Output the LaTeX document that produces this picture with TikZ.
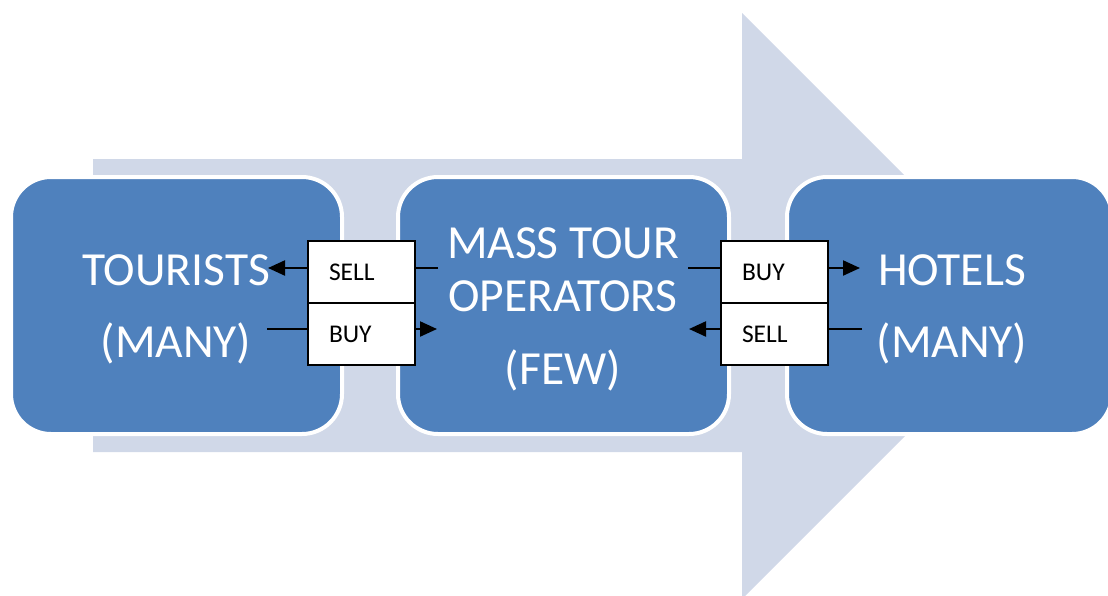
\documentclass[tikz,border=0pt]{standalone}
\usepackage{fontspec}
\setmainfont{Carlito}
\usetikzlibrary{arrows.meta}
\definecolor{boxblue}{HTML}{4F81BD}
\definecolor{arrowgrey}{HTML}{D0D8E8}
\tikzset{
  bigbox/.style={draw=white, line width=4pt, fill=boxblue, rounded corners=40pt},
  bigtext/.style={text=white, anchor=base, inner sep=0pt, font=\fontsize{47.5}{56}\selectfont},
  cell/.style={draw=black, line width=2.2pt, fill=white, minimum width=107pt, minimum height=62pt,
    text width=65pt, inner xsep=21pt, inner ysep=0pt, align=left, font=\fontsize{25.5}{28}\selectfont},
  flow/.style={draw=black, line width=2.2pt},
  flowtip/.style={flow, -{Triangle[length=17pt,width=15pt]}}
}
\begin{document}
\begin{tikzpicture}[x=1pt,y=-1pt]
\useasboundingbox (0,0) rectangle (1108,595);
\clip (0,0) rectangle (1108,595);
% big background arrow
\fill[arrowgrey] (93,159) -- (742,159) -- (742,13) -- (1035,306) -- (742,599) -- (742,452) -- (93,452) -- cycle;
% blue boxes
\draw[bigbox] (11,177) rectangle (342,434);
\draw[bigbox] (398,177) rectangle (729,434);
\draw[bigbox] (787,177) rectangle (1112,434);
% texts
\node[bigtext] (tour) at (176,285) {TOURISTS};
\node[bigtext] (tmany) at (176,357) {(MANY)};
\node[bigtext] (mass) at (563,258) {MASS TOUR};
\node[bigtext] (oper) at (563,311) {OPERATORS};
\node[bigtext] (few) at (563,384) {(FEW)};
\node[bigtext] (hot) at (952,285) {HOTELS};
\node[bigtext] (hmany) at (952,357) {(MANY)};
% cells
\node[cell] (sellL) at (361.5,272) {SELL};
\node[cell] (buyL) at (361.5,334) {BUY};
\node[cell] (buyR) at (774.5,272) {BUY};
\node[cell] (sellR) at (774.5,334) {SELL};
% free ends
\coordinate (a1) at (438,268);
\coordinate (a2) at (268,268);
\coordinate (b1) at (267,329);
\coordinate (b2) at (437,329);
\coordinate (c1) at (688,268);
\coordinate (c2) at (860,268);
\coordinate (d1) at (862,329);
\coordinate (d2) at (689,329);
% connectors
\draw[flow] (a1) -- ([yshift=4pt]sellL.east);
\draw[flowtip] ([yshift=4pt]sellL.west) -- (a2);
\draw[flow] (b1) -- ([yshift=5pt]buyL.west);
\draw[flowtip] ([yshift=5pt]buyL.east) -- (b2);
\draw[flow] (c1) -- ([yshift=4pt]buyR.west);
\draw[flowtip] ([yshift=4pt]buyR.east) -- (c2);
\draw[flow] (d1) -- ([yshift=5pt]sellR.east);
\draw[flowtip] ([yshift=5pt]sellR.west) -- (d2);
\end{tikzpicture}
\end{document}
